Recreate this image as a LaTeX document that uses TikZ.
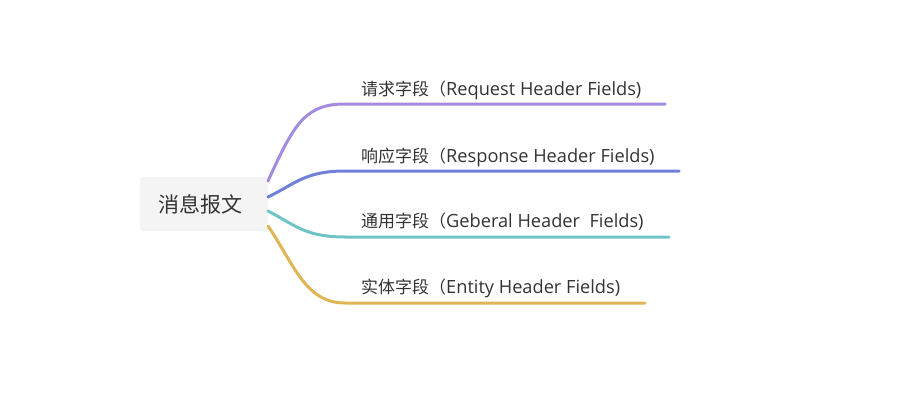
\documentclass[tikz,border=0pt]{standalone}
\usepackage{fontspec}
\setmainfont{Noto Sans CJK SC}
\newfontfamily\latinfont{Open Sans}
\newcommand{\lt}[1]{{\latinfont\fontsize{18.2}{20}\selectfont #1}}
\begin{document}
\begin{tikzpicture}[x=1pt,y=-1pt,
  rootbox/.style={fill=rootgray, rounded corners=3pt, minimum width=128pt, minimum height=54pt, inner sep=0pt},
  roottext/.style={inner sep=0pt, font=\fontsize{21}{24}\selectfont, text=textdark},
  leaf/.style={anchor=base west, inner sep=0pt, font=\fontsize{17}{20}\selectfont, text=textdark},
  branch/.style={line width=3pt, line cap=round}]
\definecolor{rootgray}{HTML}{F4F4F4}
\definecolor{textdark}{HTML}{333333}
\definecolor{cpurple}{HTML}{A38BE0}
\definecolor{cblue}{HTML}{6E80D9}
\definecolor{cteal}{HTML}{6FC5C5}
\definecolor{cgold}{HTML}{E0B556}
\useasboundingbox (0,0) rectangle (917,412);
\node[rootbox] (root) at (204,204) {};
\node[roottext] (roottxt) at (200,204) {消息报文};
\coordinate (s1) at (268,181);
\coordinate (s2) at (268,197);
\coordinate (s3) at (268,211);
\coordinate (s4) at (268,226);
\coordinate (m1) at (345,104);
\coordinate (m2) at (345,171);
\coordinate (m3) at (345,237);
\coordinate (m4) at (345,303);
\coordinate (e1) at (665,104);
\coordinate (e2) at (679,171);
\coordinate (e3) at (669,237);
\coordinate (e4) at (645,303);
\draw[branch, cpurple] (s1) .. controls (294,124) and (305,104) .. (m1) -- (e1);
\draw[branch, cblue] (s2) .. controls (295,184) and (305,171) .. (m2) -- (e2);
\draw[branch, cteal] (s3) .. controls (295,225) and (305,237) .. (m3) -- (e3);
\draw[branch, cgold] (s4) .. controls (294,264) and (305,303) .. (m4) -- (e4);
\node[leaf] (l1) at (361,95) {请求字段（\lt{Request Header Fields)}};
\node[leaf] (l2) at (361,162) {响应字段（\lt{Response Header Fields)}};
\node[leaf] (l3) at (361,227) {通用字段（\lt{Geberal Header\ \ Fields)}};
\node[leaf] (l4) at (361,293) {实体字段（\lt{Entity Header Fields)}};
\end{tikzpicture}
\end{document}
